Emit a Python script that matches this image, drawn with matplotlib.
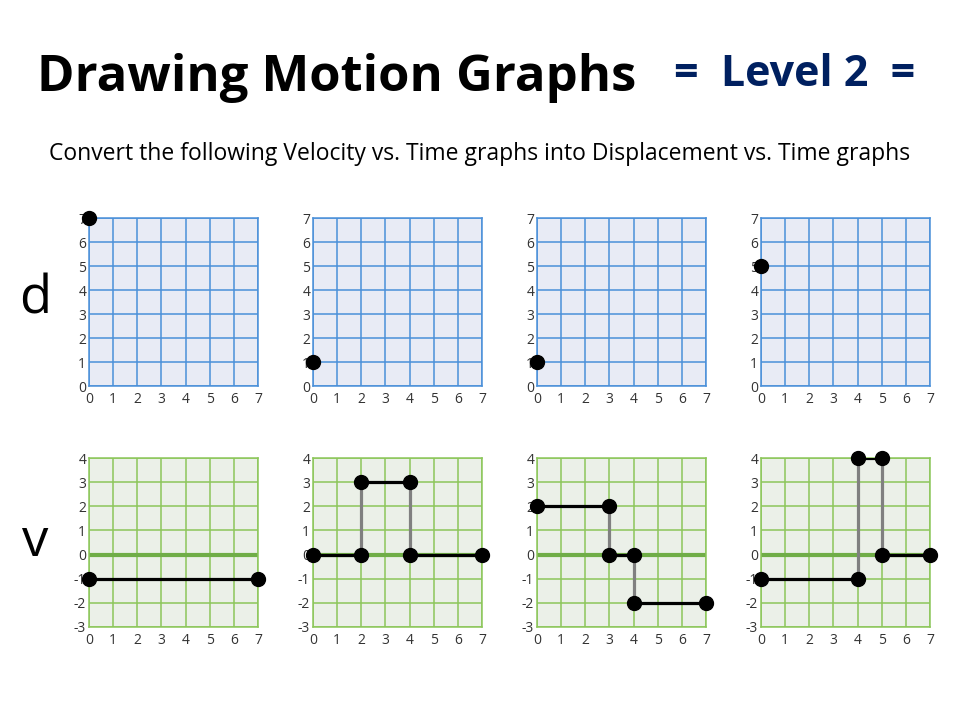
import matplotlib
matplotlib.use("Agg")
import matplotlib.pyplot as plt

plt.rcParams['font.family'] = ['Open Sans', 'DejaVu Sans']
plt.rcParams['axes.unicode_minus'] = False

# Data
d_start = [7, 1, 1, 5]           # initial displacement point at t=0
v_steps = [                       # velocity segments per panel: (t0, t1, v)
    [(0, 7, -1)],
    [(0, 2, 0), (2, 4, 3), (4, 7, 0)],
    [(0, 3, 2), (3, 4, 0), (4, 7, -2)],
    [(0, 4, -1), (4, 5, 4), (5, 7, 0)],
]
t_ticks = list(range(0, 8))
d_ticks = list(range(0, 8))
v_ticks = list(range(-3, 5))

fig = plt.figure(figsize=(9.6, 7.2), dpi=100)
W, H = 960, 720

def ax_px(x0, x1, ytop, ybot):
    return fig.add_axes([x0 / W, 1 - ybot / H, (x1 - x0) / W, (ybot - ytop) / H])

lefts = [89, 313, 537, 761]
pw = 169

blue_grid = '#4A90D9'
green_grid = '#8CC65A'

def style(ax, ymin, ymax, yticks, face, gc):
    ax.set_facecolor(face)
    ax.set_xlim(0, 7)
    ax.set_ylim(ymin, ymax)
    ax.set_xticks(t_ticks)
    ax.set_yticks(yticks)
    ax.grid(True, color=gc, lw=1.1)
    ax.set_axisbelow(True)
    for s in ax.spines.values():
        s.set_color(gc)
        s.set_linewidth(1.1)
    ax.tick_params(length=0, labelsize=10, labelcolor='#333333')
    ax.tick_params(axis='x', pad=4.5)
    ax.tick_params(axis='y', pad=2)

for i, x0 in enumerate(lefts):
    ax = ax_px(x0, x0 + pw, 218, 386)
    style(ax, 0, 7, d_ticks, '#E8EBF5', blue_grid)
    ax.plot([0], [d_start[i]], 'o', color='black', ms=10, clip_on=False, zorder=5)

    av = ax_px(x0, x0 + pw, 458, 627)
    style(av, -3, 4, v_ticks, '#EBF0E8', green_grid)
    av.axhline(0, color='#70AD47', lw=3, zorder=2)
    segs = v_steps[i]
    # vertical jumps
    for a, b in zip(segs[:-1], segs[1:]):
        av.plot([a[1], b[0]], [a[2], b[2]], color='#808080', lw=2.3, zorder=3,
                solid_capstyle='butt')
    for (t0, t1, v) in segs:
        av.plot([t0, t1], [v, v], color='black', lw=2.3, zorder=4)
        av.plot([t0, t1], [v, v], 'o', color='black', ms=10, clip_on=False, zorder=5)

fig.text(37 / W, 1 - 78 / H, 'Drawing Motion Graphs', fontsize=36.5, fontweight='bold',
         color='black', ha='left', va='center')
fig.text(795 / W, 1 - 75 / H, '=  Level 2  =', fontsize=31, fontweight='bold',
         color='#002060', ha='center', va='center')
fig.text(480 / W, 1 - 154 / H,
         'Convert the following Velocity vs. Time graphs into Displacement vs. Time graphs',
         fontsize=16.5, color='black', ha='center', va='center')
fig.text(35 / W, 1 - 300 / H, 'd', fontsize=38, color='black', ha='center', va='center')
fig.text(35 / W, 1 - 542 / H, 'v', fontsize=38, color='black', ha='center', va='center')

fig.savefig('out.png', dpi=100)
